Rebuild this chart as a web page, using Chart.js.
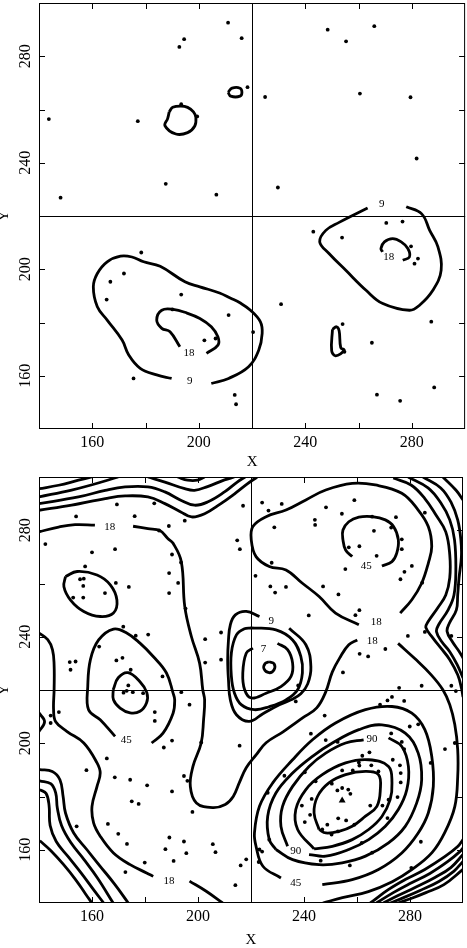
<!DOCTYPE html>
<html><head><meta charset="utf-8">
<script src="https://cdn.jsdelivr.net/npm/chart.js@4.4.0/dist/chart.umd.min.js"></script>
<style>
html,body{margin:0;padding:0;background:#fff;width:467px;height:948px;overflow:hidden;}
#c1{position:absolute;left:0;top:0;}
#c2{position:absolute;left:0;top:470px;}
</style></head><body>
<canvas id="c1" width="467" height="470"></canvas>
<canvas id="c2" width="467" height="478"></canvas>
<script>
// ---- axis values ----
const axisMin = 140, axisMax = 300, tickStep = 20, labelStep = 40, crossAt = 220;
const xTitle = 'X', yTitle = 'Y';

// ---- TOP PANEL ----
const topPoints = [[211.0,292.6],[194.5,286.4],[192.7,283.5],[216.1,286.8],[248.4,290.0],[265.9,291.3],[255.3,285.6],[143.7,256.4],[177.1,255.6],[193.4,262.0],[199.4,257.4],[218.3,268.4],[224.9,264.7],[260.5,266.0],[279.5,264.6],[281.8,241.6],[187.6,232.1],[148.1,226.9],[206.6,228.0],[229.7,230.7],[270.4,217.4],[276.5,217.9],[243.0,214.1],[253.8,211.9],[279.7,208.6],[282.3,204.0],[281.0,202.1],[230.9,186.9],[220.4,176.4],[254.0,179.4],[254.7,169.0],[265.0,172.4],[287.3,180.3],[288.4,155.6],[266.9,152.9],[275.6,150.6],[213.5,152.8],[214.0,149.3],[178.4,206.3],[171.9,198.4],[166.8,195.3],[165.4,188.6],[193.4,190.5],[190.1,184.9],[211.2,182.8],[202.1,173.3],[206.3,174.0],[175.5,159.0]];
const topLoopA = [[188.9,259.1],[190.2,260.8],[193.3,261.3],[195.8,260.8],[198.0,259.1],[198.9,257.0],[198.5,253.8],[195.8,251.3],[191.4,250.8],[187.3,253.9],[188.3,256.6],[188.9,259.1]];
const topLoopB = [[211.0,266.5],[212.5,268.0],[215.5,268.0],[216.2,266.5],[215.5,265.0],[212.0,265.0],[211.0,266.5]];
const topLoopC = [[250.2,177.4],[251.7,178.4],[252.7,176.9],[253.3,170.6],[254.6,169.6],[251.4,167.5],[249.9,169.4],[250.2,177.4]];
const top9Right = [[263.4,223.0],[252.7,217.6],[247.7,214.6],[245.4,210.3],[248.9,205.9],[255.2,199.6],[262.8,192.1],[269.1,187.1],[279.1,184.6],[282.9,186.5],[287.9,192.1],[291.0,199.6],[289.8,208.4],[286.7,214.6],[283.7,220.8],[277.9,223.5]];
const top18Right = [[269.0,206.5],[268.4,207.8],[269.7,210.3],[272.8,211.5],[276.0,210.3],[278.5,207.8],[279.1,204.6],[276.6,203.4]];
const top9Left = [[189.8,159.0],[184.2,160.3],[178.0,162.8],[173.7,167.8],[171.2,173.4],[165.6,180.9],[161.9,185.9],[160.4,193.4],[161.9,198.4],[165.6,202.8],[170.6,204.9],[174.9,204.6],[179.3,202.8],[185.5,201.1],[194.8,195.3],[200.4,193.4],[207.8,191.1],[211.8,189.2],[215.6,187.3],[219.4,184.6],[223.1,180.3],[223.8,175.9],[222.5,169.6],[218.7,163.4],[211.2,159.0],[204.7,157.1]];
const top18Left = [[192.9,170.9],[189.2,176.5],[186.1,177.8],[184.2,180.9],[186.1,184.6],[190.4,184.9],[195.4,183.6],[200.4,181.5],[204.7,178.4],[207.2,174.6],[207.2,171.5],[202.9,168.4]];
const topLines = [topLoopA, topLoopB, topLoopC, top9Right, top18Right, top9Left, top18Left];
const topLabels = [[268.7,224.3,'9'],[271.3,204.4,'18'],[196.3,168.6,'18'],[196.6,158.0,'9']];

// ---- BOTTOM PANEL ----
const bottomPoints = [
[169.4,289.7],[183.5,290.1],[154.0,285.2],[176.1,285.3],[195.0,283.6],[189.0,281.6],[185.3,279.9],[214.8,276.2],[215.8,272.9],[142.4,274.8],[160.0,271.7],[168.7,272.9],[190.2,270.9],[193.6,267.9],[157.4,266.4],[189.1,263.9],[155.5,261.6],[156.9,261.8],[156.7,259.1],[169.0,260.2],[173.9,258.7],[192.5,260.2],[189.1,256.4],[152.9,254.7],[156.7,254.7],[164.9,256.4],[195.3,250.6],[171.8,243.8],[176.5,240.4],[181.2,240.8],[202.7,239.1],[208.7,241.6],[162.7,236.3],[151.6,230.5],[153.8,230.7],[151.9,227.6],[169.2,231.1],[171.5,232.1],[174.6,227.6],[202.7,230.3],[208.7,231.4],[186.6,225.1],[171.9,219.0],[173.1,219.7],[175.4,219.2],[179.3,218.8],[173.7,221.7],[193.7,219.2],[196.8,214.5],
[217.0,289.2],[224.2,290.4],[226.6,287.4],[231.6,289.9],[228.8,281.1],[248.3,288.6],[259.0,291.3],[254.3,286.2],[244.1,283.9],[244.2,282.0],[265.7,285.1],[274.7,284.9],[285.6,286.6],[272.9,281.0],[266.4,279.8],[227.8,267.8],[256.9,273.6],[260.9,274.0],[267.4,270.4],[276.9,276.6],[276.9,272.9],[280.7,266.6],[277.9,264.4],[276.4,261.6],[255.6,265.4],[221.7,262.9],[227.3,258.9],[229.1,256.6],[233.2,258.7],[247.2,258.9],[253.0,255.9],[284.6,260.3],[260.9,250.0],[259.4,248.1],[241.8,248.0],[279.2,240.3],[285.6,241.8],[295.6,240.3],[270.7,235.4],[261.0,233.6],[264.2,232.6],[254.7,226.6],[275.9,220.8],[284.4,221.6],[295.6,221.6],[297.3,219.6],[237.8,221.7],[236.9,215.7],[268.7,214.5],[271.5,216.1],[273.2,217.4],[277.8,215.9],
[144.4,210.4],[147.5,211.7],[144.4,207.6],[183.7,211.7],[183.7,208.4],[190.2,201.0],[187.1,198.4],[201.2,200.3],[165.6,194.3],[157.9,189.9],[168.6,187.2],[174.4,186.3],[180.8,184.2],[194.7,187.7],[196.0,185.9],[190.2,181.9],[175.0,178.2],[177.6,177.2],[197.9,174.2],[154.2,168.8],[166.0,169.7],[169.9,166.0],[173.2,162.2],[189.2,164.6],[194.7,163.1],[205.6,162.1],[187.7,160.2],[195.6,158.7],[206.6,159.1],[190.8,155.8],[179.9,155.2],[172.6,151.6],[214.1,146.7],
[247.8,210.4],[215.7,199.1],[242.6,203.6],[248.2,201.2],[252.7,200.5],[272.9,203.7],[276.9,200.5],[277.8,197.8],[279.9,206.3],[283.1,207.1],[296.9,200.1],[293.2,197.8],[287.8,192.6],[264.7,196.6],[260.7,192.8],[260.9,191.6],[258.4,189.8],[254.4,189.8],[265.4,191.7],[268.1,189.4],[273.5,193.8],[276.2,191.7],[276.5,188.8],[276.5,185.3],[275.3,179.8],[271.9,178.8],[269.6,176.6],[271.5,171.9],[265.0,176.6],[244.4,185.7],[240.3,189.1],[232.6,187.8],[226.3,181.4],[242.9,179.1],[239.2,176.6],[242.3,173.1],[240.3,170.4],[252.6,182.3],[254.4,183.2],[256.7,182.6],[257.5,181.0],[252.9,171.8],[255.9,171.0],[248.8,169.4],[246.9,167.6],[250.4,165.7],[252.8,166.9],[259.0,169.4],[261.8,162.6],[265.7,158.9],[226.9,163.8],[223.2,160.1],[224.2,159.3],[222.9,155.4],[218.2,156.4],[216.1,154.1],[246.3,155.9],[257.3,154.1],[284.1,163.0],[262.0,195.3],[250.5,184.8],[280.5,153.2]];
const bottomPeak = [[254.4,178.5]];

const botTopA = [[140,295.6],[147.4,296.9],[154.9,298.8],[159.9,300]];
const botTopB = [[140,292.5],[152.3,295.1],[159.7,297.0],[169.9,300]];
const botTopC = [[140,290.0],[154.9,292.5],[165.0,295.0],[172.5,296.3],[181.1,296.3],[187.5,294.4],[193.5,291.3],[198.7,289.4],[203.6,290.6],[210.0,294.4],[214.8,298.1],[217.8,300]];
const botTopD = [[140,287.5],[152.3,289.4],[165.0,291.9],[172.5,292.9],[181.1,292.5],[187.5,290.0],[193.5,286.9],[197.6,285.0],[202.5,286.2],[208.5,289.9],[213.7,293.6],[218.6,297.4],[222.3,300]];
const botTopE = [[181.1,300],[187.5,298.1],[195.0,295.6],[198.7,295.0],[203.6,296.4],[210.0,298.9],[213.7,300]];
const botTopF = [[192.3,300],[196.1,298.8],[199.8,298.8],[202.5,300]];
const bot18TopLeft = [[140,279.4],[147.4,281.2],[153.6,282.1],[161.1,281.9]];
const bot18Long = [[175.5,281.5],[181.1,280.6],[185.6,279.9],[188.6,276.9],[190.6,275.1],[193.7,268.2],[195.0,251.4],[197.5,240.1],[200.6,230.1],[201.8,220.1],[202.5,216.3],[202.1,208.8],[201.2,200.1],[198.1,191.3],[197.1,183.8],[199.4,177.6],[205.5,175.8],[210.3,177.0],[213.3,180.0],[215.6,185.2],[218.2,190.8],[222.0,195.7],[225.7,200.2],[232.1,204.3],[239.6,209.6],[244.8,213.3],[248.2,219.3],[250.7,226.8],[253.8,232.6],[256.9,237.0],[260.1,238.8]];
const bot18Outer = [[275.5,237.5],[281.8,231.8],[288.0,225.7],[292.4,220.1],[295.0,214.5],[296.9,207.0],[298.0,197.6],[298.0,187.4],[296.9,176.2],[293.1,166.4],[288.3,158.9],[280.8,152.6],[273.3,148.0],[264.3,144.3],[254.5,142.0],[247.1,140.0]];
const bot18Loop = [[260.7,244.5],[251.9,248.9],[245.7,255.1],[239.4,260.1],[233.2,265.1],[226.9,266.4],[221.9,270.1],[220.1,276.4],[220.7,281.4],[225.7,285.1],[233.2,287.6],[240.7,291.4],[248.2,295.1],[258.2,297.6],[266.9,297.0],[276.9,293.9],[283.1,287.6],[286.9,281.4],[288.2,273.9],[286.9,267.6],[284.4,260.1],[280.7,253.9],[276.3,248.9]];
const bot45TopRight = [[269.4,266.6],[273.2,268.2],[275.0,271.4],[275.6,276.4],[273.8,281.4],[270.7,283.9],[265.7,285.1],[260.7,284.9],[256.9,283.2],[254.7,280.1],[254.7,276.4],[255.7,272.6],[258.2,270.1]];
const botSmallLoop = [[150.0,262.6],[154.4,264.5],[161.9,263.2],[166.9,259.5],[169.4,253.8],[168.1,248.9],[163.1,247.6],[156.9,249.5],[151.9,253.8],[149.4,258.8],[150.0,262.6]];
const bot45Left = [[182.5,200.1],[186.8,203.8],[190.6,211.3],[191.2,216.3],[190.6,218.8],[188.1,226.4],[183.1,232.6],[178.1,237.6],[173.1,241.4],[168.1,242.9],[162.5,238.8],[159.4,231.4],[158.4,221.3],[158.7,212.6],[163.1,208.8],[168.7,202.6]];
const botInnerLeft = [[168.0,220.1],[169.9,224.6],[173.6,226.5],[178.1,223.1],[180.7,219.0],[180.6,215.2],[178.1,212.0],[174.4,211.4],[170.6,213.2],[168.1,216.3],[168.0,220.1]];
const bot18Left = [[139.9,241.5],[143.3,238.9],[145.1,235.1],[145.7,229.5],[145.7,220.1],[145.5,212.6],[146.3,208.1],[150.6,204.4],[156.9,200.1],[161.9,192.6],[163.1,188.8],[161.9,183.8],[160.0,176.3],[160.6,170.1],[163.1,165.1],[168.1,158.8],[174.4,154.4],[180.6,151.3],[183.1,150.0]];
const bot18Bottom = [[196.8,148.2],[203.1,144.4],[209.3,140.0]];
const botEdgeBit = [[139.9,211.5],[142.1,208.1],[139.9,204.3]];
const botCornerK1 = [[140.3,190.1],[145.0,189.4],[147.9,186.3],[149.1,180.0],[150.0,173.8],[153.1,166.3],[158.1,160.0],[163.1,153.8],[168.6,147.0],[173.7,140.0]];
const botCornerK2 = [[140.3,185.9],[144.4,184.8],[146.3,181.4],[146.9,175.8],[148.5,169.1],[152.0,162.7],[157.0,156.3],[162.0,149.5],[168.0,140.0]];
const botCornerK3 = [[140.3,182.6],[142.7,181.1],[143.8,176.6],[144.2,169.1],[146.5,163.1],[151.0,157.4],[155.8,151.4],[160.5,145.1],[164.4,140.0]];
const botCornerK4 = [[140.3,163.4],[144.4,159.7],[149.3,154.4],[153.8,148.8],[157.5,143.5],[160.0,140.0]];
const bot9Loop = [[223.2,247.6],[218.2,249.5],[214.1,248.2],[212.2,244.5],[211.5,238.8],[211.2,231.3],[211.5,223.8],[212.2,216.3],[214.5,210.7],[219.3,208.2],[224.5,211.1],[230.7,214.5],[235.1,216.3],[238.8,218.6],[241.4,222.3],[242.6,228.7],[240.7,237.0],[234.4,243.2]];
const botMidLoop = [[220.1,243.3],[229.4,242.6],[235.7,238.8],[238.8,232.6],[239.4,226.4],[237.6,220.1],[233.2,216.3],[226.8,213.7],[221.2,212.6],[216.3,214.5],[213.7,219.0],[212.6,225.1],[212.6,234.0],[214.5,240.7],[217.5,243.0],[220.1,243.3]];
const bot7Loop = [[220.7,235.7],[218.2,233.8],[216.9,226.4],[217.6,220.1],[220.1,217.0],[225.7,218.8],[231.3,221.3],[235.1,225.1],[235.7,230.1],[233.8,235.2],[230.0,237.5]];
const botPentagon = [[226.8,230.6],[228.7,229.9],[228.7,227.6],[226.8,226.5],[224.9,228.0],[225.3,229.9],[226.8,230.6]];
const botRightB1 = [[273.7,299.6],[280.4,297.0],[285.6,291.9],[289.8,285.7],[293.5,279.4],[295.0,270.8],[295.0,262.1],[293.5,255.7],[290.5,250.9],[286.8,245.6],[286.0,243.4],[288.6,239.6],[291.6,235.8],[295.0,231.4],[298.0,225.7],[299.4,220.8],[300,217.4]];
const botRightB2 = [[279.3,300],[286.8,295.9],[291.6,290.3],[295.0,283.9],[296.8,276.4],[297.3,265.1],[296.6,255.7],[294.4,250.1],[290.8,244.5],[290.0,241.9],[292.0,238.1],[295.0,234.4],[297.8,229.5],[300,224.5]];
const botRightB3 = [[284.9,300],[291.6,295.9],[295.6,290.3],[298.0,283.9],[299.2,276.4],[299.4,270.0],[298.5,262.0],[298.0,255.7],[297.5,250.1],[294.8,245.0],[294.0,242.0],[296.0,238.1],[298.6,234.4],[300,232.0]];
const botRightB4 = [[292.4,300],[297.3,295.1],[300,291.4]];
const botRing1 = [[245.7,167.6],[243.8,173.8],[245.1,180.0],[249.4,185.1],[255.7,188.2],[263.2,189.4],[268.1,188.2],[268.8,182.6],[267.5,176.3],[263.2,172.6],[258.2,168.8],[253.2,166.9],[248.2,166.3],[245.7,167.6]];
const botRing2 = [[243.8,160.3],[237.6,167.6],[236.9,175.1],[240.7,182.6],[246.9,188.2],[255.7,192.6],[264.4,193.8],[271.9,191.3],[273.2,185.1],[272.5,178.8],[269.4,172.5],[264.4,167.6],[258.2,163.8],[250.7,161.3],[243.8,160.3]];
const botRing3a = [[271.9,202.0],[276.9,198.8],[279.4,191.3],[278.8,182.6],[275.6,175.1],[270.7,168.8],[264.4,163.8],[256.9,160.1],[248.2,157.6],[241.9,158.2]];
const botRing3b = [[233.8,161.3],[231.3,168.8],[231.9,176.3],[235.7,183.8],[241.9,191.3],[248.2,196.3],[255.7,200.1],[262.5,201.3]];
const botRing4 = [[229.4,160.1],[226.9,163.8],[226.3,172.6],[229.4,181.3],[235.7,188.8],[243.2,195.1],[250.7,200.1],[260.7,205.1],[269.4,206.9],[278.2,203.8],[283.1,196.3],[284.4,186.3],[282.5,177.5],[278.2,168.8],[271.9,162.6],[263.2,157.6],[254.4,155.1],[245.7,154.4],[235.7,156.3],[229.4,160.1]];
const botRing5 = [[231.3,149.4],[224.5,153.8],[221.9,161.3],[221.3,166.3],[223.2,176.3],[228.2,185.1],[235.7,193.8],[243.2,201.3],[251.9,207.6],[263.2,212.6],[273.2,213.8],[280.7,211.3],[285.6,205.1],[288.2,195.1],[288.8,183.8],[286.9,173.8],[283.1,166.3],[276.9,158.8],[268.1,152.6],[258.2,148.8],[246.9,146.9]];
const botCornerBR1 = [[265.0,140.0],[271.8,145.0],[278.2,148.8],[285.6,152.6],[293.1,157.4],[298.0,161.2],[300,163.8]];
const botCornerBR2 = [[267.3,140.0],[273.7,143.9],[280.0,147.3],[287.5,151.1],[294.3,155.6],[298.8,159.3],[300,160.7]];
const botCornerBR3 = [[269.9,140.0],[275.5,142.8],[281.9,145.8],[289.4,149.6],[295.4,153.3],[300,158.2]];
const botCornerBR4 = [[272.5,140.0],[277.8,142.1],[283.8,144.7],[290.9,148.1],[296.5,151.9],[300,155.6]];
const botCornerBR5 = [[275.5,140.0],[280.4,141.7],[286.0,143.9],[292.8,146.9],[300,152.6]];
const bottomLines = [botTopA, botTopB, botTopC, botTopD, botTopE, botTopF, bot18TopLeft, bot18Long, bot18Outer, bot18Loop, bot45TopRight, botSmallLoop, bot45Left, botInnerLeft, bot18Left, bot18Bottom, botEdgeBit, botCornerK1, botCornerK2, botCornerK3, botCornerK4, bot9Loop, botMidLoop, bot7Loop, botPentagon, botRightB1, botRightB2, botRightB3, botRightB4, botRing1, botRing2, botRing3a, botRing3b, botRing4, botRing5, botCornerBR1, botCornerBR2, botCornerBR3, botCornerBR4, botCornerBR5];
const bottomLabels = [[166.7,281.0,'18'],[263.5,266.6,'45'],[267.3,245.5,'18'],[265.8,238.4,'18'],[227.6,245.7,'9'],[224.7,235.3,'7'],[172.9,201.1,'45'],[265.7,201.6,'90'],[236.9,159.4,'90'],[236.9,147.5,'45'],[189.1,148.2,'18']];

// ---- rendering ----
const SERIF = '"Liberation Serif", "Times New Roman", serif';
const framePlugin = {
  id: 'frame',
  afterDatasetsDraw(chart, args, opts) {
    const {ctx, chartArea: a, scales: {x, y}} = chart;
    ctx.save();
    ctx.strokeStyle = '#000';
    ctx.lineWidth = 1;
    ctx.strokeRect(a.left + 0.5, a.top + 0.5, a.right - a.left - 1, a.bottom - a.top - 1);
    const tl = 6;
    ctx.beginPath();
    x.ticks.forEach(t => {
      if (t.value <= axisMin || t.value >= axisMax) return;
      const p = Math.round(x.getPixelForValue(t.value)) + 0.5;
      ctx.moveTo(p, a.bottom); ctx.lineTo(p, a.bottom - tl);
      ctx.moveTo(p, a.top); ctx.lineTo(p, a.top + tl);
    });
    y.ticks.forEach(t => {
      if (t.value <= axisMin || t.value >= axisMax) return;
      const p = Math.round(y.getPixelForValue(t.value)) + 0.5;
      ctx.moveTo(a.left, p); ctx.lineTo(a.left + tl, p);
      ctx.moveTo(a.right, p); ctx.lineTo(a.right - tl, p);
    });
    ctx.stroke();
    ctx.fillStyle = '#000';
    ctx.font = '11px ' + SERIF;
    ctx.textAlign = 'center';
    ctx.textBaseline = 'middle';
    (opts.labels || []).forEach(l => {
      ctx.fillText(l[2], x.getPixelForValue(l[0]), y.getPixelForValue(l[1]));
    });
    ctx.restore();
  }
};

const toXY = arr => arr.map(p => ({x: p[0], y: p[1]}));
const zeroPad = s => { s.paddingLeft = 0; s.paddingRight = 0; s.paddingTop = 0; s.paddingBottom = 0; };

function buildChart(id, points, lines, labels, padTop, xAxisHeight, peaks) {
  const datasets = [];
  datasets.push({data: toXY(points), showLine: false, pointRadius: 1.9, pointHoverRadius: 1.9,
    pointBorderWidth: 0, backgroundColor: '#000', borderColor: '#000', order: 0});
  if (peaks) datasets.push({data: toXY(peaks), showLine: false, pointStyle: 'triangle', pointRadius: 4,
    pointBorderWidth: 0, backgroundColor: '#000', borderColor: '#000', order: 0});
  lines.forEach(l => datasets.push({data: toXY(l), showLine: true, borderColor: '#000', borderWidth: 2.8,
    pointRadius: 0, pointHoverRadius: 0, tension: 0.4, fill: false, clip: 0, order: 1}));
  const gridOpts = {
    drawTicks: false, lineWidth: 1,
    color: c => (c.tick && c.tick.value === crossAt) ? '#000' : 'rgba(0,0,0,0)'
  };
  return new Chart(document.getElementById(id), {
    type: 'scatter',
    data: {datasets},
    options: {
      responsive: false, animation: false, devicePixelRatio: 1,
      events: [],
      layout: {padding: {top: padTop, right: 1, left: 0, bottom: 0}},
      plugins: {legend: {display: false}, tooltip: {enabled: false}, frame: {labels}},
      scales: {
        x: {
          type: 'linear', min: axisMin, max: axisMax,
          afterFit: s => { s.height = xAxisHeight; zeroPad(s); },
          ticks: {stepSize: tickStep, autoSkip: false, maxRotation: 0, padding: 4, color: '#000',
            font: {family: SERIF, size: 16},
            callback: v => (v % labelStep === 0 ? String(v) : '')},
          grid: gridOpts,
          border: {display: false},
          title: {display: true, text: xTitle, color: '#000', font: {family: SERIF, size: 15, lineHeight: 1},
            padding: {top: 0, bottom: 0}}
        },
        y: {
          type: 'linear', min: axisMin, max: axisMax,
          afterFit: s => { s.width = 39; zeroPad(s); },
          ticks: {stepSize: tickStep, autoSkip: false, minRotation: 90, maxRotation: 90, crossAlign: 'center',
            padding: 1, color: '#000', font: {family: SERIF, size: 16},
            callback: v => (v % labelStep === 0 ? String(v) : '')},
          grid: gridOpts,
          border: {display: false},
          title: {display: true, text: yTitle, color: '#000', font: {family: SERIF, size: 15, lineHeight: 1},
            padding: {top: -3, bottom: 0}}
        }
      }
    },
    plugins: [framePlugin]
  });
}

buildChart('c1', topPoints, topLines, topLabels, 3, 41, null);
buildChart('c2', bottomPoints, bottomLines, bottomLabels, 7, 45, bottomPeak);
</script>
</body></html>
